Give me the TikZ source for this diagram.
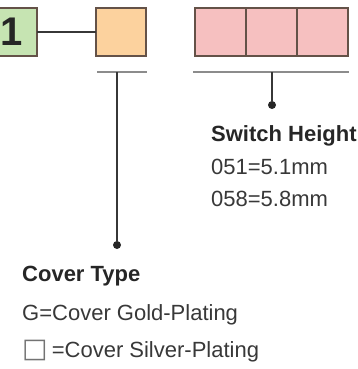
\documentclass[tikz,border=0pt]{standalone}
\usepackage{fontspec}
\setmainfont{Liberation Sans}
\newfontfamily\boxglyph{DejaVu Sans}
\usetikzlibrary{positioning}
\definecolor{numgreen}{RGB}{198,228,178}
\definecolor{covorange}{RGB}{252,210,158}
\definecolor{hgtpink}{RGB}{246,192,192}
\definecolor{boxedge}{RGB}{100,82,72}
\definecolor{bargray}{RGB}{140,140,140}
\definecolor{inkgray}{RGB}{55,55,55}

\begin{document}
\begin{tikzpicture}[x=1pt, y=-1pt,
    cell/.style={draw=boxedge, line width=2pt, minimum width=51pt,
      minimum height=48pt, inner sep=0pt, outer sep=0pt},
    bar/.style={bargray, line width=2.6pt},
    conn/.style={inkgray, line width=1.8pt},
    dot/.style={circle, fill=black!85, inner sep=0pt, minimum size=8pt},
    head/.style={anchor=base west, inner sep=0pt, font=\fontsize{22}{22}\selectfont\bfseries, text=black!85},
    txt/.style={anchor=base west, inner sep=0pt, font=\fontsize{22}{22}\selectfont, text=black!78}]
  \clip (0,0) rectangle (358,369);
  % Code boxes
  \node[cell, fill=numgreen, minimum width=50pt,
    font=\fontsize{40}{40}\selectfont\bfseries, text=black!85] (num) at (12,32) {1};
  \node[cell, fill=covorange, minimum width=50pt] (cover) at (121,32) {};
  \foreach \i/\x in {1/220.5, 2/271.5, 3/322.5}
    \node[cell, fill=hgtpink] (hgt\i) at (\x,32) {};
  \draw[conn] (num) -- (cover);
  % Brackets under the boxes
  \coordinate (cvbarL) at (97,72);
  \coordinate (cvbarR) at (147,72);
  \coordinate (cvbarM) at (117,72);
  \coordinate (swbarL) at (193,72);
  \coordinate (swbarR) at (349,72);
  \coordinate (swbarM) at (272,72);
  \draw[bar] (cvbarL) -- (cvbarR);
  \draw[bar] (swbarL) -- (swbarR);
  % Leaders
  \node[dot] (swdot) at (272,105) {};
  \node[dot] (cvdot) at (117,245) {};
  \draw[conn] (swbarM) -- (swdot);
  \draw[conn] (cvbarM) -- (cvdot);
  % Switch height
  \node[head] (swtitle) at (211,141) {Switch Height};
  \node[txt] (sw1) at (211,174) {051=5.1mm};
  \node[txt] (sw2) at (211,206) {058=5.8mm};
  % Cover type
  \node[head] (cvtitle) at (22,281) {Cover Type};
  \node[txt] (cv1) at (22,320) {G=Cover Gold-Plating};
  \node[txt] (cv2) at (22,357)
    {{\boxglyph\fontsize{27}{27}\selectfont\color{black!55}□}\hspace{-2pt} =Cover Silver-Plating};
\end{tikzpicture}
\end{document}
